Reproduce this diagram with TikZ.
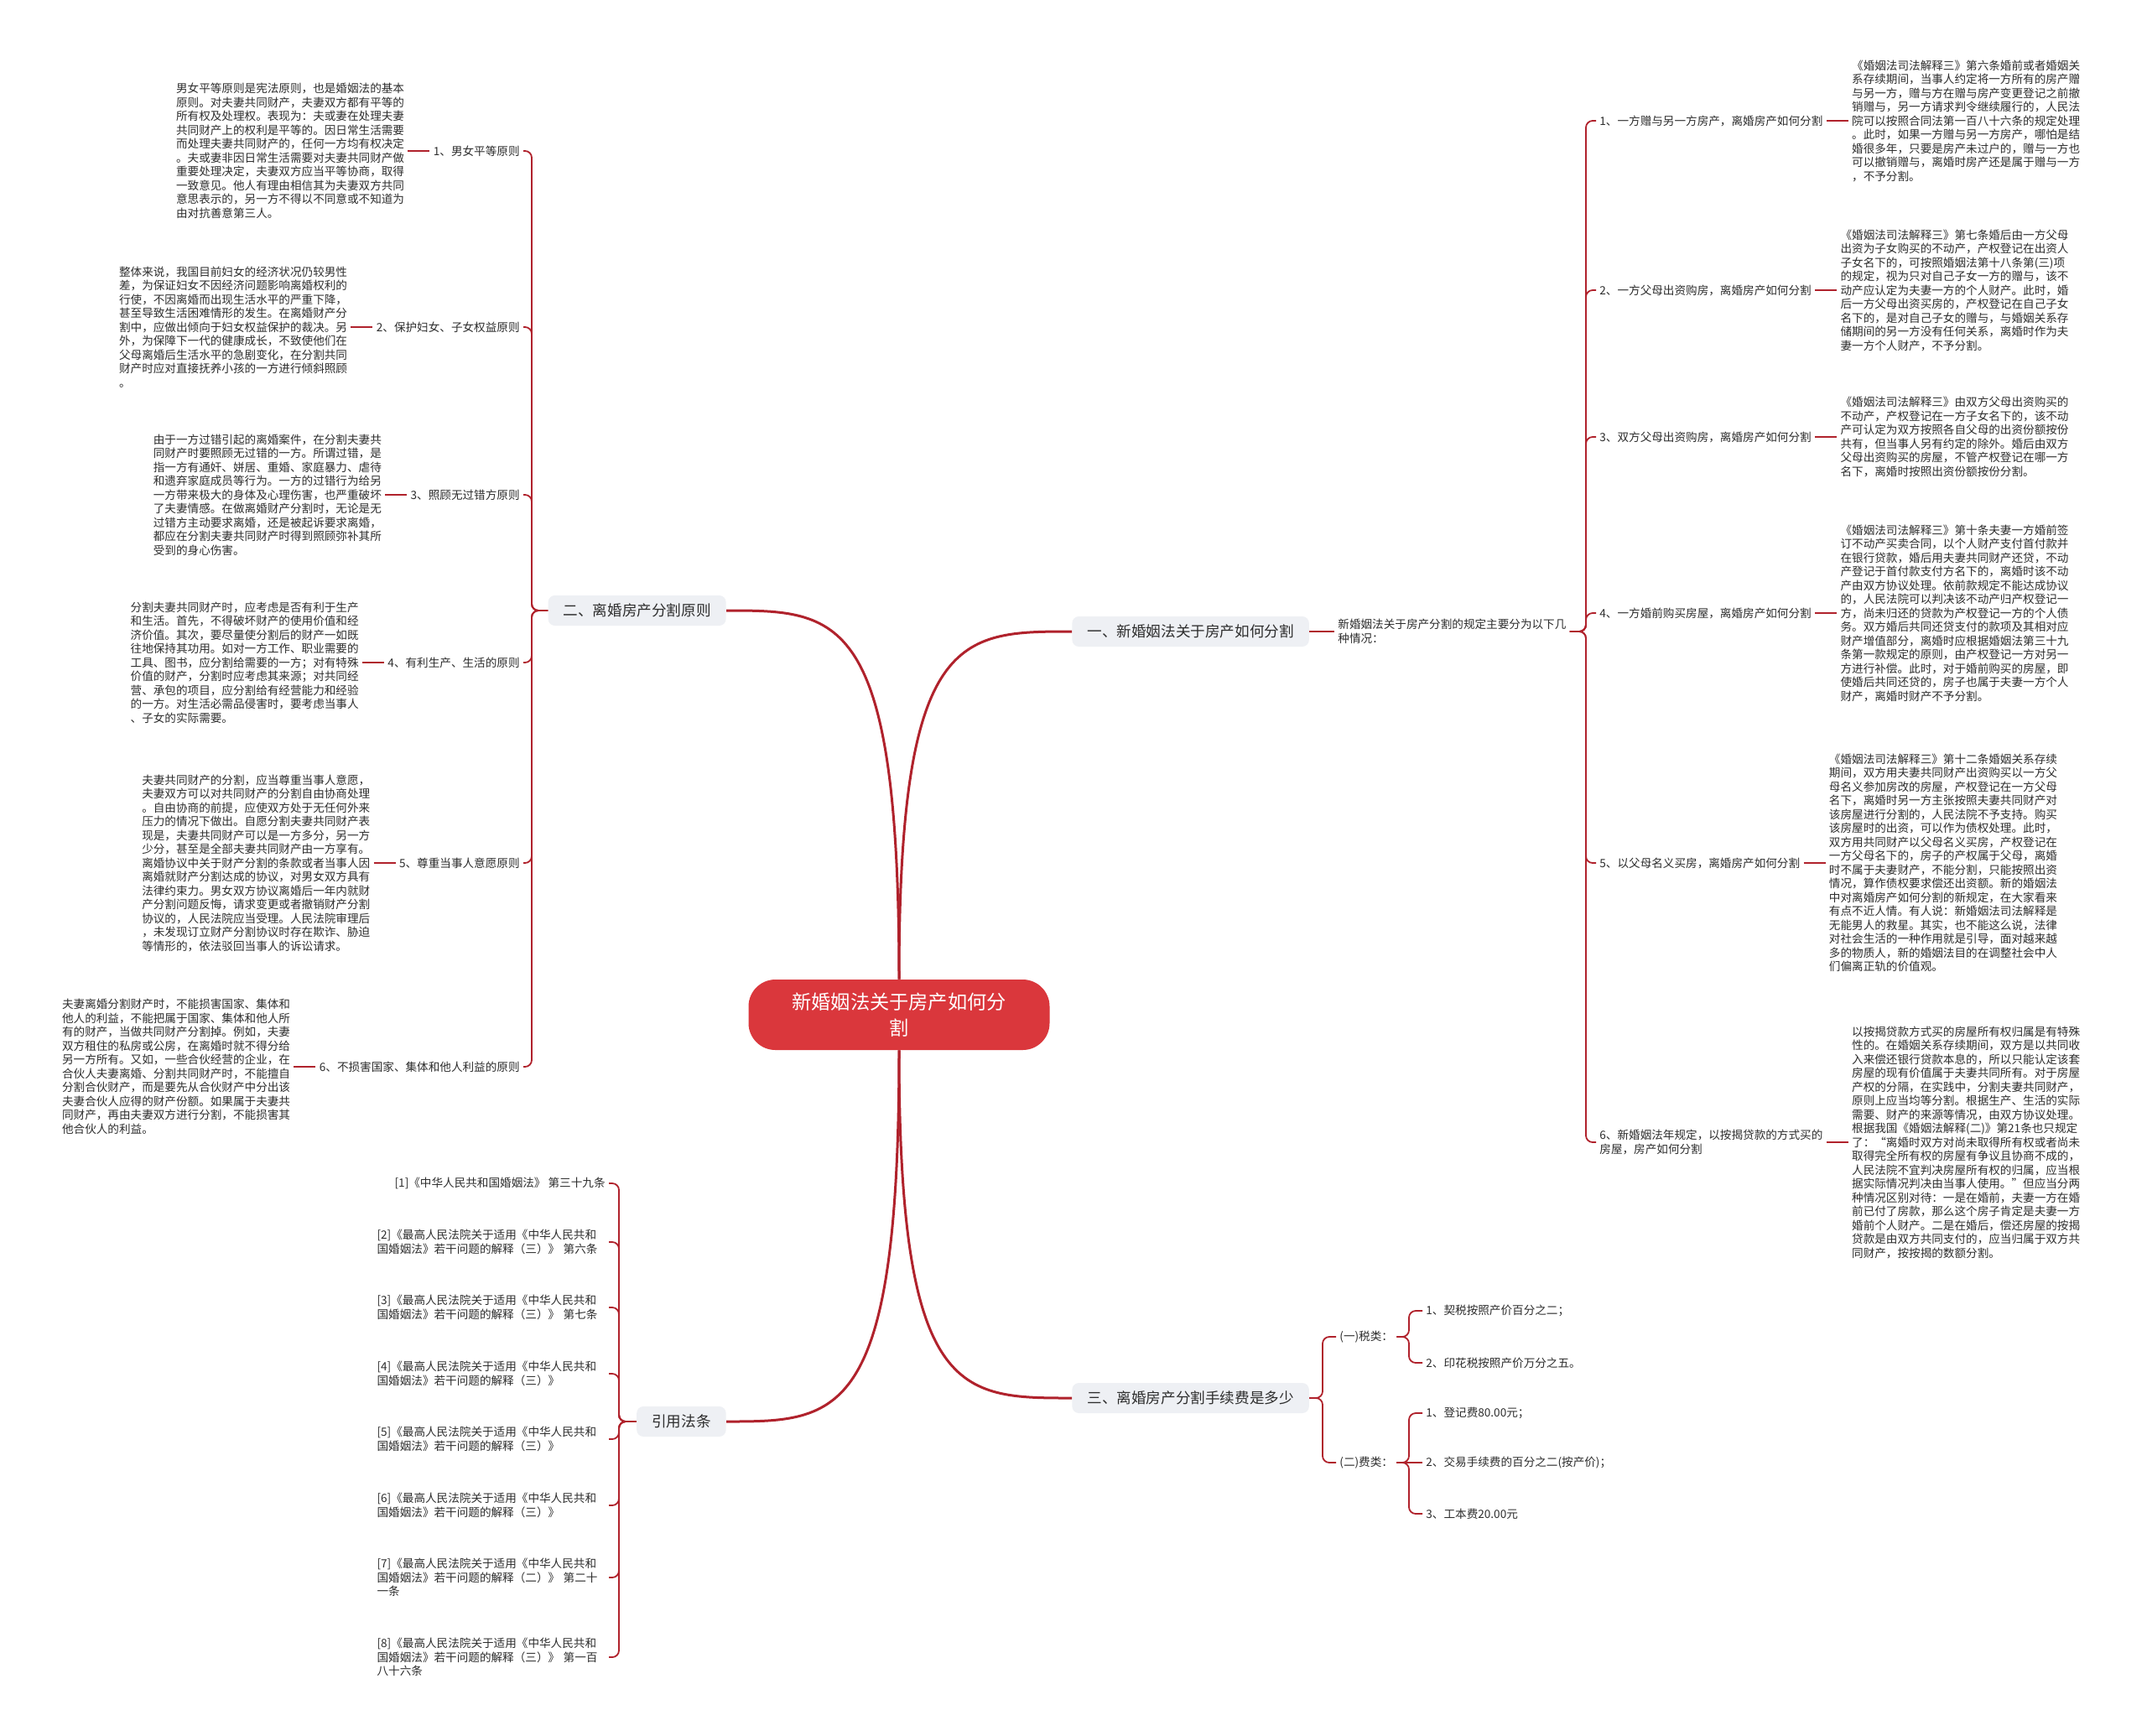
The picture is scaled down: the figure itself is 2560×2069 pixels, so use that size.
\documentclass[tikz,border=0pt]{standalone}
\usepackage{fontspec}
\setmainfont{Noto Sans CJK SC}
\definecolor{linec}{RGB}{176,34,44}
\definecolor{cenc}{RGB}{218,55,60}
\definecolor{boxc}{RGB}{238,240,244}
\definecolor{txtc}{RGB}{45,45,45}
\begin{document}
\begin{tikzpicture}[x=0.5pt,y=-0.5pt,
  every node/.style={text=txtc},
  small/.style={font=\fontsize{6.8pt}{8.25pt}\selectfont, align=left, inner sep=2pt},
  box/.style={fill=boxc, rounded corners=4pt, font=\fontsize{8.8pt}{10pt}\selectfont, inner xsep=9pt, inner ysep=4.5pt, minimum height=18pt},
  mainln/.style={draw=linec, line width=1.5pt},
  subln/.style={draw=linec, line width=0.9pt, rounded corners=4pt},
]
\fill[white] (0,0) rectangle (2560,2069);
\useasboundingbox (0,0) rectangle (2560,2069);

% central
\node[fill=cenc, rounded corners=16pt, minimum width=179.5pt, minimum height=42pt, text=white, font=\fontsize{11.6pt}{15.5pt}\selectfont, align=center] (c) at (1072,1210) {新婚姻法关于房产如何分\\割};

% main boxes
\node[box, anchor=west] (b1) at (1278,753) {一、新婚姻法关于房产如何分割};
\node[box, anchor=east] (b2) at (866,728) {二、离婚房产分割原则};
\node[box, anchor=west] (b3) at (1278,1667) {三、离婚房产分割手续费是多少};
\node[box, anchor=east] (bR) at (866,1695) {引用法条};

\draw[mainln] (c.north) .. controls (1072,753) and (1144,753) .. (b1.west);
\draw[mainln] (c.north) .. controls (1072,728) and (1000,728) .. (b2.east);
\draw[mainln] (c.south) .. controls (1072,1667) and (1144,1667) .. (b3.west);
\draw[mainln] (c.south) .. controls (1072,1695) and (1000,1695) .. (bR.east);

% ===== branch 1 (right) =====
\node[small, anchor=west] (intro) at (1591,753) {新婚姻法关于房产分割的规定主要分为以下几\\种情况：};
\draw[subln] (b1.east) -- (intro.west);
\coordinate (j1) at (1891,753);

\node[small, anchor=west] (r1) at (1903,144) {1、一方赠与另一方房产，离婚房产如何分割};
\node[small, anchor=west] (r2) at (1903,346) {2、一方父母出资购房，离婚房产如何分割};
\node[small, anchor=west] (r3) at (1903,521) {3、双方父母出资购房，离婚房产如何分割};
\node[small, anchor=west] (r4) at (1903,731) {4、一方婚前购买房屋，离婚房产如何分割};
\node[small, anchor=west] (r5) at (1903,1029) {5、以父母名义买房，离婚房产如何分割};
\node[small, anchor=west] (r6) at (1903,1362) {6、新婚姻法年规定，以按揭贷款的方式买的\\房屋，房产如何分割};

\foreach \n in {r1,r2,r3,r4,r5,r6} \draw[subln] (intro.east) -- (j1) |- (\n.west);

\node[small, anchor=west] (s1) at ([xshift=13pt]r1.east) {《婚姻法司法解释三》第六条婚前或者婚姻关\\系存续期间，当事人约定将一方所有的房产赠\\与另一方，赠与方在赠与房产变更登记之前撤\\销赠与，另一方请求判令继续履行的，人民法\\院可以按照合同法第一百八十六条的规定处理\\。此时，如果一方赠与另一方房产，哪怕是结\\婚很多年，只要是房产未过户的，赠与一方也\\可以撤销赠与，离婚时房产还是属于赠与一方\\，不予分割。};
\node[small, anchor=west] (s2) at ([xshift=13pt]r2.east) {《婚姻法司法解释三》第七条婚后由一方父母\\出资为子女购买的不动产，产权登记在出资人\\子女名下的，可按照婚姻法第十八条第(三)项\\的规定，视为只对自己子女一方的赠与，该不\\动产应认定为夫妻一方的个人财产。此时，婚\\后一方父母出资买房的，产权登记在自己子女\\名下的，是对自己子女的赠与，与婚姻关系存\\储期间的另一方没有任何关系，离婚时作为夫\\妻一方个人财产，不予分割。};
\node[small, anchor=west] (s3) at ([xshift=13pt]r3.east) {《婚姻法司法解释三》由双方父母出资购买的\\不动产，产权登记在一方子女名下的，该不动\\产可认定为双方按照各自父母的出资份额按份\\共有，但当事人另有约定的除外。婚后由双方\\父母出资购买的房屋，不管产权登记在哪一方\\名下，离婚时按照出资份额按份分割。};
\node[small, anchor=west] (s4) at ([xshift=13pt]r4.east) {《婚姻法司法解释三》第十条夫妻一方婚前签\\订不动产买卖合同，以个人财产支付首付款并\\在银行贷款，婚后用夫妻共同财产还贷，不动\\产登记于首付款支付方名下的，离婚时该不动\\产由双方协议处理。依前款规定不能达成协议\\的，人民法院可以判决该不动产归产权登记一\\方，尚未归还的贷款为产权登记一方的个人债\\务。双方婚后共同还贷支付的款项及其相对应\\财产增值部分，离婚时应根据婚姻法第三十九\\条第一款规定的原则，由产权登记一方对另一\\方进行补偿。此时，对于婚前购买的房屋，即\\使婚后共同还贷的，房子也属于夫妻一方个人\\财产，离婚时财产不予分割。};
\node[small, anchor=west] (s5) at ([xshift=13pt]r5.east) {《婚姻法司法解释三》第十二条婚姻关系存续\\期间，双方用夫妻共同财产出资购买以一方父\\母名义参加房改的房屋，产权登记在一方父母\\名下，离婚时另一方主张按照夫妻共同财产对\\该房屋进行分割的，人民法院不予支持。购买\\该房屋时的出资，可以作为债权处理。此时，\\双方用共同财产以父母名义买房，产权登记在\\一方父母名下的，房子的产权属于父母，离婚\\时不属于夫妻财产，不能分割，只能按照出资\\情况，算作债权要求偿还出资额。新的婚姻法\\中对离婚房产如何分割的新规定，在大家看来\\有点不近人情。有人说：新婚姻法司法解释是\\无能男人的救星。其实，也不能这么说，法律\\对社会生活的一种作用就是引导，面对越来越\\多的物质人，新的婚姻法目的在调整社会中人\\们偏离正轨的价值观。};
\node[small, anchor=west] (s6) at ([xshift=13pt]r6.east) {以按揭贷款方式买的房屋所有权归属是有特殊\\性的。在婚姻关系存续期间，双方是以共同收\\入来偿还银行贷款本息的，所以只能认定该套\\房屋的现有价值属于夫妻共同所有。对于房屋\\产权的分隔，在实践中，分割夫妻共同财产，\\原则上应当均等分割。根据生产、生活的实际\\需要、财产的来源等情况，由双方协议处理。\\根据我国《婚姻法解释(二)》第21条也只规定\\了：“离婚时双方对尚未取得所有权或者尚未\\取得完全所有权的房屋有争议且协商不成的，\\人民法院不宜判决房屋所有权的归属，应当根\\据实际情况判决由当事人使用。”但应当分两\\种情况区别对待：一是在婚前，夫妻一方在婚\\前已付了房款，那么这个房子肯定是夫妻一方\\婚前个人财产。二是在婚后，偿还房屋的按揭\\贷款是由双方共同支付的，应当归属于双方共\\同财产，按按揭的数额分割。};

\foreach \a/\b in {r1/s1,r2/s2,r3/s3,r4/s4,r5/s5,r6/s6} \draw[subln] (\a.east) -- (\b.west);

% ===== branch 2 (left) =====
\coordinate (j2) at (634,728);
\node[small, anchor=east] (c1) at (624,180) {1、男女平等原则};
\node[small, anchor=east] (c2) at (624,390) {2、保护妇女、子女权益原则};
\node[small, anchor=east] (c3) at (624,590) {3、照顾无过错方原则};
\node[small, anchor=east] (c4) at (624,790) {4、有利生产、生活的原则};
\node[small, anchor=east] (c5) at (624,1029) {5、尊重当事人意愿原则};
\node[small, anchor=east] (c6) at (624,1272) {6、不损害国家、集体和他人利益的原则};
\foreach \n in {c1,c2,c3,c4,c5,c6} \draw[subln] (b2.west) -- (j2) |- (\n.east);

\node[small, anchor=east] (p1) at ([xshift=-13pt]c1.west) {男女平等原则是宪法原则，也是婚姻法的基本\\原则。对夫妻共同财产，夫妻双方都有平等的\\所有权及处理权。表现为：夫或妻在处理夫妻\\共同财产上的权利是平等的。因日常生活需要\\而处理夫妻共同财产的，任何一方均有权决定\\。夫或妻非因日常生活需要对夫妻共同财产做\\重要处理决定，夫妻双方应当平等协商，取得\\一致意见。他人有理由相信其为夫妻双方共同\\意思表示的，另一方不得以不同意或不知道为\\由对抗善意第三人。};
\node[small, anchor=east] (p2) at ([xshift=-13pt]c2.west) {整体来说，我国目前妇女的经济状况仍较男性\\差，为保证妇女不因经济问题影响离婚权利的\\行使，不因离婚而出现生活水平的严重下降，\\甚至导致生活困难情形的发生。在离婚财产分\\割中，应做出倾向于妇女权益保护的裁决。另\\外，为保障下一代的健康成长，不致使他们在\\父母离婚后生活水平的急剧变化，在分割共同\\财产时应对直接抚养小孩的一方进行倾斜照顾\\。};
\node[small, anchor=east] (p3) at ([xshift=-13pt]c3.west) {由于一方过错引起的离婚案件，在分割夫妻共\\同财产时要照顾无过错的一方。所谓过错，是\\指一方有通奸、姘居、重婚、家庭暴力、虐待\\和遗弃家庭成员等行为。一方的过错行为给另\\一方带来极大的身体及心理伤害，也严重破坏\\了夫妻情感。在做离婚财产分割时，无论是无\\过错方主动要求离婚，还是被起诉要求离婚，\\都应在分割夫妻共同财产时得到照顾弥补其所\\受到的身心伤害。};
\node[small, anchor=east] (p4) at ([xshift=-13pt]c4.west) {分割夫妻共同财产时，应考虑是否有利于生产\\和生活。首先，不得破坏财产的使用价值和经\\济价值。其次，要尽量使分割后的财产一如既\\往地保持其功用。如对一方工作、职业需要的\\工具、图书，应分割给需要的一方；对有特殊\\价值的财产，分割时应考虑其来源；对共同经\\营、承包的项目，应分割给有经营能力和经验\\的一方。对生活必需品侵害时，要考虑当事人\\、子女的实际需要。};
\node[small, anchor=east] (p5) at ([xshift=-13pt]c5.west) {夫妻共同财产的分割，应当尊重当事人意愿，\\夫妻双方可以对共同财产的分割自由协商处理\\。自由协商的前提，应使双方处于无任何外来\\压力的情况下做出。自愿分割夫妻共同财产表\\现是，夫妻共同财产可以是一方多分，另一方\\少分，甚至是全部夫妻共同财产由一方享有。\\离婚协议中关于财产分割的条款或者当事人因\\离婚就财产分割达成的协议，对男女双方具有\\法律约束力。男女双方协议离婚后一年内就财\\产分割问题反悔，请求变更或者撤销财产分割\\协议的，人民法院应当受理。人民法院审理后\\，未发现订立财产分割协议时存在欺诈、胁迫\\等情形的，依法驳回当事人的诉讼请求。};
\node[small, anchor=east] (p6) at ([xshift=-13pt]c6.west) {夫妻离婚分割财产时，不能损害国家、集体和\\他人的利益，不能把属于国家、集体和他人所\\有的财产，当做共同财产分割掉。例如，夫妻\\双方租住的私房或公房，在离婚时就不得分给\\另一方所有。又如，一些合伙经营的企业，在\\合伙人夫妻离婚、分割共同财产时，不能擅自\\分割合伙财产，而是要先从合伙财产中分出该\\夫妻合伙人应得的财产份额。如果属于夫妻共\\同财产，再由夫妻双方进行分割，不能损害其\\他合伙人的利益。};
\foreach \a/\b in {c1/p1,c2/p2,c3/p3,c4/p4,c5/p5,c6/p6} \draw[subln] (\b.east) -- (\a.west);

% ===== branch 3 (fees) =====
\coordinate (j3) at (1577,1667);
\node[small, anchor=west] (x1) at (1593,1594) {(一)税类：};
\node[small, anchor=west] (x2) at (1593,1744) {(二)费类：};
\draw[subln] (b3.east) -- (j3) |- (x1.west);
\draw[subln] (b3.east) -- (j3) |- (x2.west);
\coordinate (j4) at (1680,1594);
\coordinate (j5) at (1680,1744);
\node[small, anchor=west] (i1) at (1696,1563) {1、契税按照产价百分之二；};
\node[small, anchor=west] (i2) at (1696,1625) {2、印花税按照产价万分之五。};
\node[small, anchor=west] (i3) at (1696,1685) {1、登记费80.00元；};
\node[small, anchor=west] (i4) at (1696,1744) {2、交易手续费的百分之二(按产价)；};
\node[small, anchor=west] (i5) at (1696,1805) {3、工本费20.00元};
\draw[subln] (x1.east) -- (j4) |- (i1.west);
\draw[subln] (x1.east) -- (j4) |- (i2.west);
\draw[subln] (x2.east) -- (j5) |- (i3.west);
\draw[subln] (x2.east) -- (i4.west);
\draw[subln] (x2.east) -- (j5) |- (i5.west);

% ===== references =====
\coordinate (j6) at (738,1695);
\node[small, anchor=east] (f1) at (726,1411) {[1]《中华人民共和国婚姻法》 第三十九条};
\node[small, anchor=east, text width=136pt] (f2) at (726,1481) {[2]《最高人民法院关于适用《中华人民共和\\国婚姻法》若干问题的解释（三）》 第六条};
\node[small, anchor=east, text width=136pt] (f3) at (726,1559) {[3]《最高人民法院关于适用《中华人民共和\\国婚姻法》若干问题的解释（三）》 第七条};
\node[small, anchor=east, text width=136pt] (f4) at (726,1638) {[4]《最高人民法院关于适用《中华人民共和\\国婚姻法》若干问题的解释（三）》};
\node[small, anchor=east, text width=136pt] (f5) at (726,1716) {[5]《最高人民法院关于适用《中华人民共和\\国婚姻法》若干问题的解释（三）》};
\node[small, anchor=east, text width=136pt] (f6) at (726,1795) {[6]《最高人民法院关于适用《中华人民共和\\国婚姻法》若干问题的解释（三）》};
\node[small, anchor=east, text width=136pt] (f7) at (726,1881) {[7]《最高人民法院关于适用《中华人民共和\\国婚姻法》若干问题的解释（二）》 第二十\\一条};
\node[small, anchor=east, text width=136pt] (f8) at (726,1976) {[8]《最高人民法院关于适用《中华人民共和\\国婚姻法》若干问题的解释（三）》 第一百\\八十六条};
\foreach \n in {f1,f2,f3,f4,f5,f6,f7,f8} \draw[subln] (bR.west) -- (j6) |- (\n.east);

\end{tikzpicture}
\end{document}
